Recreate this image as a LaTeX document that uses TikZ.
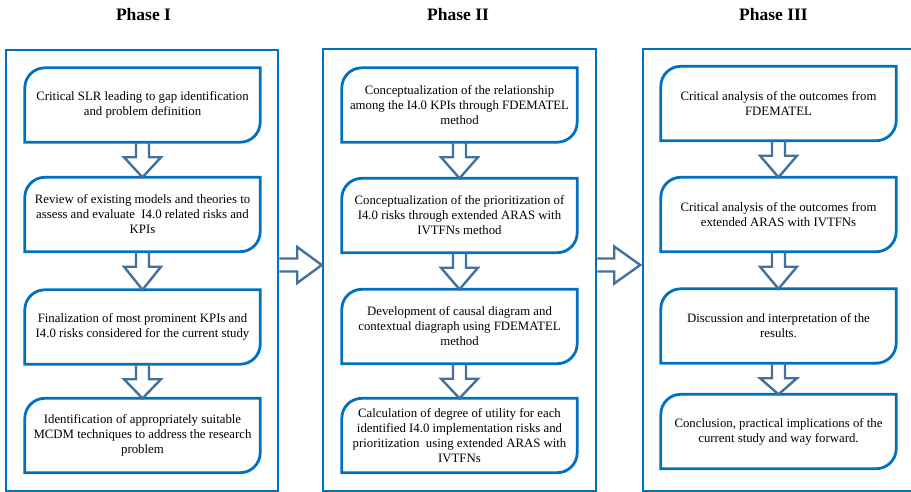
\documentclass[tikz,border=0pt]{standalone}
\usepackage{fontspec}
\setmainfont{Liberation Serif}
\usetikzlibrary{calc}
\definecolor{boxblue}{HTML}{0070C0}
\definecolor{arrblue}{HTML}{41719C}
\tikzset{
  stepnode/.style={draw=none, minimum width=235pt, minimum height=74pt, inner sep=0pt,
    align=center, font=\fontsize{12.8}{15}\selectfont},
  phasebox/.style={draw=boxblue, line width=2.5pt, inner sep=0pt},
  boxline/.style={draw=boxblue, line width=2.8pt},
  arrline/.style={draw=arrblue, line width=2.4pt, line join=miter},
  titlenode/.style={font=\fontsize{17.5}{20}\selectfont\bfseries, inner sep=0pt}
}
\newcommand{\stepshape}[1]{%
  \draw[boxline] (#1.south west) -- ([yshift=-20pt]#1.north west)
    arc[start angle=180,end angle=90,radius=20pt] -- (#1.north east)
    -- ([yshift=20pt]#1.south east) arc[start angle=0,end angle=-90,radius=20pt] -- cycle;}
\newcommand{\downarr}[2]{%
  \draw[arrline] ([xshift=-6.5pt]#1.south) -- ([xshift=-6.5pt,yshift=-15pt]#1.south)
    -- ([xshift=-18.5pt,yshift=-15pt]#1.south) -- (#2.north)
    -- ([xshift=18.5pt,yshift=-15pt]#1.south) -- ([xshift=6.5pt,yshift=-15pt]#1.south)
    -- ([xshift=6.5pt]#1.south);}
\begin{document}
\begin{tikzpicture}[x=1pt,y=-1pt]
\useasboundingbox (0,0) rectangle (911,491);
% titles
\node[titlenode] (t1) at (143.5,14.5) {Phase I};
\node[titlenode] (t2) at (458,14.5) {Phase II};
\node[titlenode] (t3) at (773.5,14.5) {Phase III};
% phase boxes
\node[phasebox, minimum width=272pt, minimum height=441pt] (P1) at (142,270.5) {};
\node[phasebox, minimum width=273pt, minimum height=442pt] (P2) at (459.5,270) {};
\node[phasebox, minimum width=272pt, minimum height=442pt] (P3) at (779,270) {};
% Phase I steps
\node[stepnode] (a1) at (142.5,105) {Critical SLR leading to gap identification\\and problem definition};
\node[stepnode] (a2) at (142.5,214.5) {Review of existing models and theories to\\assess and evaluate \ I4.0 related risks and\\KPIs};
\node[stepnode] (a3) at (142.5,327) {Finalization of most prominent KPIs and\\I4.0 risks considered for the current study};
\node[stepnode] (a4) at (142.5,435.5) {Identification of appropriately suitable\\MCDM techniques to address the research\\problem};
% Phase II steps
\node[stepnode] (b1) at (459.5,105) {Conceptualization of the relationship\\among the I4.0 KPIs through FDEMATEL\\method};
\node[stepnode] (b2) at (459.5,215.5) {Conceptualization of the prioritization of\\I4.0 risks through extended ARAS with\\IVTFNs method};
\node[stepnode] (b3) at (459.5,326.5) {Development of causal diagram and\\contextual diagraph using FDEMATEL\\method};
\node[stepnode] (b4) at (459.5,435.5) {Calculation of degree of utility for each\\identified I4.0 implementation risks and\\prioritization \ using extended ARAS with\\IVTFNs};
% Phase III steps
\node[stepnode] (c1) at (778.5,103.5) {Critical analysis of the outcomes from\\FDEMATEL};
\node[stepnode] (c2) at (778.5,214.5) {Critical analysis of the outcomes from\\extended ARAS with IVTFNs};
\node[stepnode] (c3) at (778.5,326) {Discussion and interpretation of the\\results.};
\node[stepnode] (c4) at (778.5,431.5) {Conclusion, practical implications of the\\current study and way forward.};
\foreach \n in {a1,a2,a3,a4,b1,b2,b3,b4,c1,c2,c3,c4} {\stepshape{\n}}
% down arrows
\downarr{a1}{a2}\downarr{a2}{a3}\downarr{a3}{a4}
\downarr{b1}{b2}\downarr{b2}{b3}\downarr{b3}{b4}
\downarr{c1}{c2}\downarr{c2}{c3}\downarr{c3}{c4}
% right arrows between phases
\coordinate (e1) at ([yshift=5.5pt]P1.east);
\coordinate (w2) at ([yshift=5pt]P2.west);
\coordinate (e2) at ([yshift=5pt]P2.east);
\coordinate (w3) at ([yshift=5pt]P3.west);
\draw[arrline] ([yshift=6.5pt]e1) -- ([xshift=18pt,yshift=6.5pt]e1) -- ([xshift=18pt,yshift=18pt]e1)
  -- (w2) -- ([xshift=18pt,yshift=-18pt]e1) -- ([xshift=18pt,yshift=-6.5pt]e1) -- ([yshift=-6.5pt]e1);
\draw[arrline] ([yshift=6.5pt]e2) -- ([xshift=17pt,yshift=6.5pt]e2) -- ([xshift=17pt,yshift=18.5pt]e2)
  -- ([xshift=-1.5pt]w3) -- ([xshift=17pt,yshift=-18.5pt]e2) -- ([xshift=17pt,yshift=-6.5pt]e2) -- ([yshift=-6.5pt]e2);
\end{tikzpicture}
\end{document}
